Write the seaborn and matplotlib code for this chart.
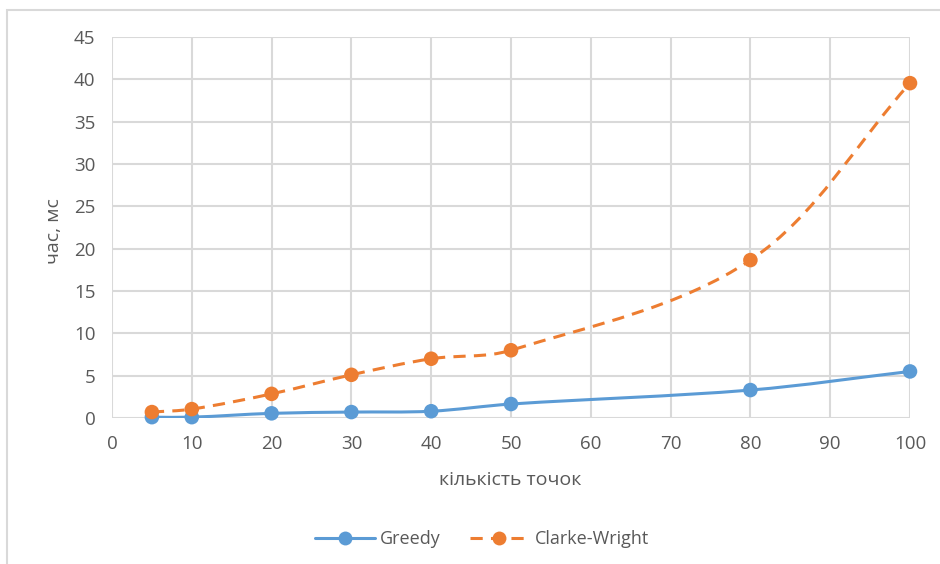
import numpy as np
import pandas as pd
import matplotlib
matplotlib.use("Agg")
import matplotlib.pyplot as plt
from matplotlib.path import Path
from matplotlib.patches import PathPatch, Rectangle
from matplotlib.lines import Line2D
import seaborn as sns

# Number of points and run time (ms) for each algorithm
points = [5, 10, 20, 30, 40, 50, 80, 100]
greedy = [0.1, 0.1, 0.55, 0.7, 0.8, 1.65, 3.3, 5.5]
clarke_wright = [0.7, 1.05, 2.85, 5.1, 7.0, 8.0, 18.65, 39.55]
series_names = ["Greedy", "Clarke-Wright"]
x_ticks = list(range(0, 101, 10))
y_ticks = list(range(0, 46, 5))

BLUE = "#5B9BD5"
ORANGE = "#ED7D31"
GRID = "#D9D9D9"
TEXT = "#595959"

sns.set_theme(style="white")
plt.rcParams["font.family"] = ["Open Sans", "DejaVu Sans"]

df = pd.DataFrame({
    "points": points * 2,
    "time": greedy + clarke_wright,
    "algo": [series_names[0]] * len(points) + [series_names[1]] * len(points),
})

fig = plt.figure(figsize=(9.4, 5.64), dpi=100)
# outer chart frame
fig.patches.append(Rectangle((7 / 940, -0.05), 1.1, 1 - 10 / 564 + 0.05,
                             transform=fig.transFigure, fill=False,
                             edgecolor="#D9D9D9", linewidth=1.5))
ax = fig.add_axes([112 / 940, 1 - 418 / 564, (910 - 112) / 940, (418 - 37) / 564])

XMAX, YMAX = 100, 45
# pixel size of one data unit, so the smoothing works in screen proportions
SX, SY = 798 / XMAX, 381 / YMAX


def smooth_path(xs, ys):
    """Cubic Bezier path through the points (smoothed line segments)."""
    p = np.column_stack([np.asarray(xs, float) * SX, np.asarray(ys, float) * SY])
    n = len(p)
    tangents = []
    for i in range(n):
        a = p[max(i - 1, 0)]
        b = p[min(i + 1, n - 1)]
        d = b - a
        tangents.append(d / np.linalg.norm(d))
    verts = [p[0]]
    codes = [Path.MOVETO]
    for i in range(n - 1):
        p1, p2 = p[i], p[i + 1]
        h = np.linalg.norm(p2 - p1) / 3.0
        c1 = p1 + tangents[i] * h
        c2 = p2 - tangents[i + 1] * h
        verts += [c1, c2, p2]
        codes += [Path.CURVE4] * 3
    verts = np.array(verts) / np.array([SX, SY])
    return Path(verts, codes)


lw = 2.2
dash = (0, (4, 2.7))
ax.add_patch(PathPatch(smooth_path(points, greedy), fill=False,
                       edgecolor=BLUE, linewidth=lw, zorder=3,
                       capstyle="round"))
ax.add_patch(PathPatch(smooth_path(points, clarke_wright), fill=False,
                       edgecolor=ORANGE, linewidth=lw, zorder=3,
                       linestyle=dash, capstyle="butt"))

sns.scatterplot(data=df, x="points", y="time", hue="algo",
                palette={series_names[0]: BLUE, series_names[1]: ORANGE},
                s=110, edgecolor="none", ax=ax, legend=False, zorder=4,
                clip_on=False)

ax.set_xlim(0, XMAX)
ax.set_ylim(0, YMAX)
ax.set_xticks(x_ticks)
ax.set_yticks(y_ticks)
ax.grid(True, color=GRID, linewidth=1.5)
ax.set_axisbelow(True)
for s in ax.spines.values():
    s.set_visible(False)
ax.tick_params(axis="both", length=0, labelsize=13.5, colors=TEXT)
ax.tick_params(axis="y", pad=12)
ax.tick_params(axis="x", pad=12)
ax.set_xlabel("кількість точок", fontsize=14, color=TEXT)
ax.set_ylabel("час, мс", fontsize=14, color=TEXT)
ax.xaxis.set_label_coords(0.499, -0.14)
ax.yaxis.set_label_coords(-0.061, 0.49)

handles = [
    Line2D([], [], color=BLUE, linewidth=lw, marker="o", markersize=10,
           markeredgewidth=0),
    Line2D([], [], color=ORANGE, linewidth=lw, linestyle=dash,
           marker="o", markersize=10, markeredgewidth=0),
]
fig.legend(handles, series_names, loc="center",
           bbox_to_anchor=(482 / 940, 1 - 539 / 564), ncol=2, frameon=False,
           fontsize=13, labelcolor=TEXT, handlelength=3.3, handletextpad=0.3,
           columnspacing=1.6)

fig.savefig("out.png", dpi=100)
